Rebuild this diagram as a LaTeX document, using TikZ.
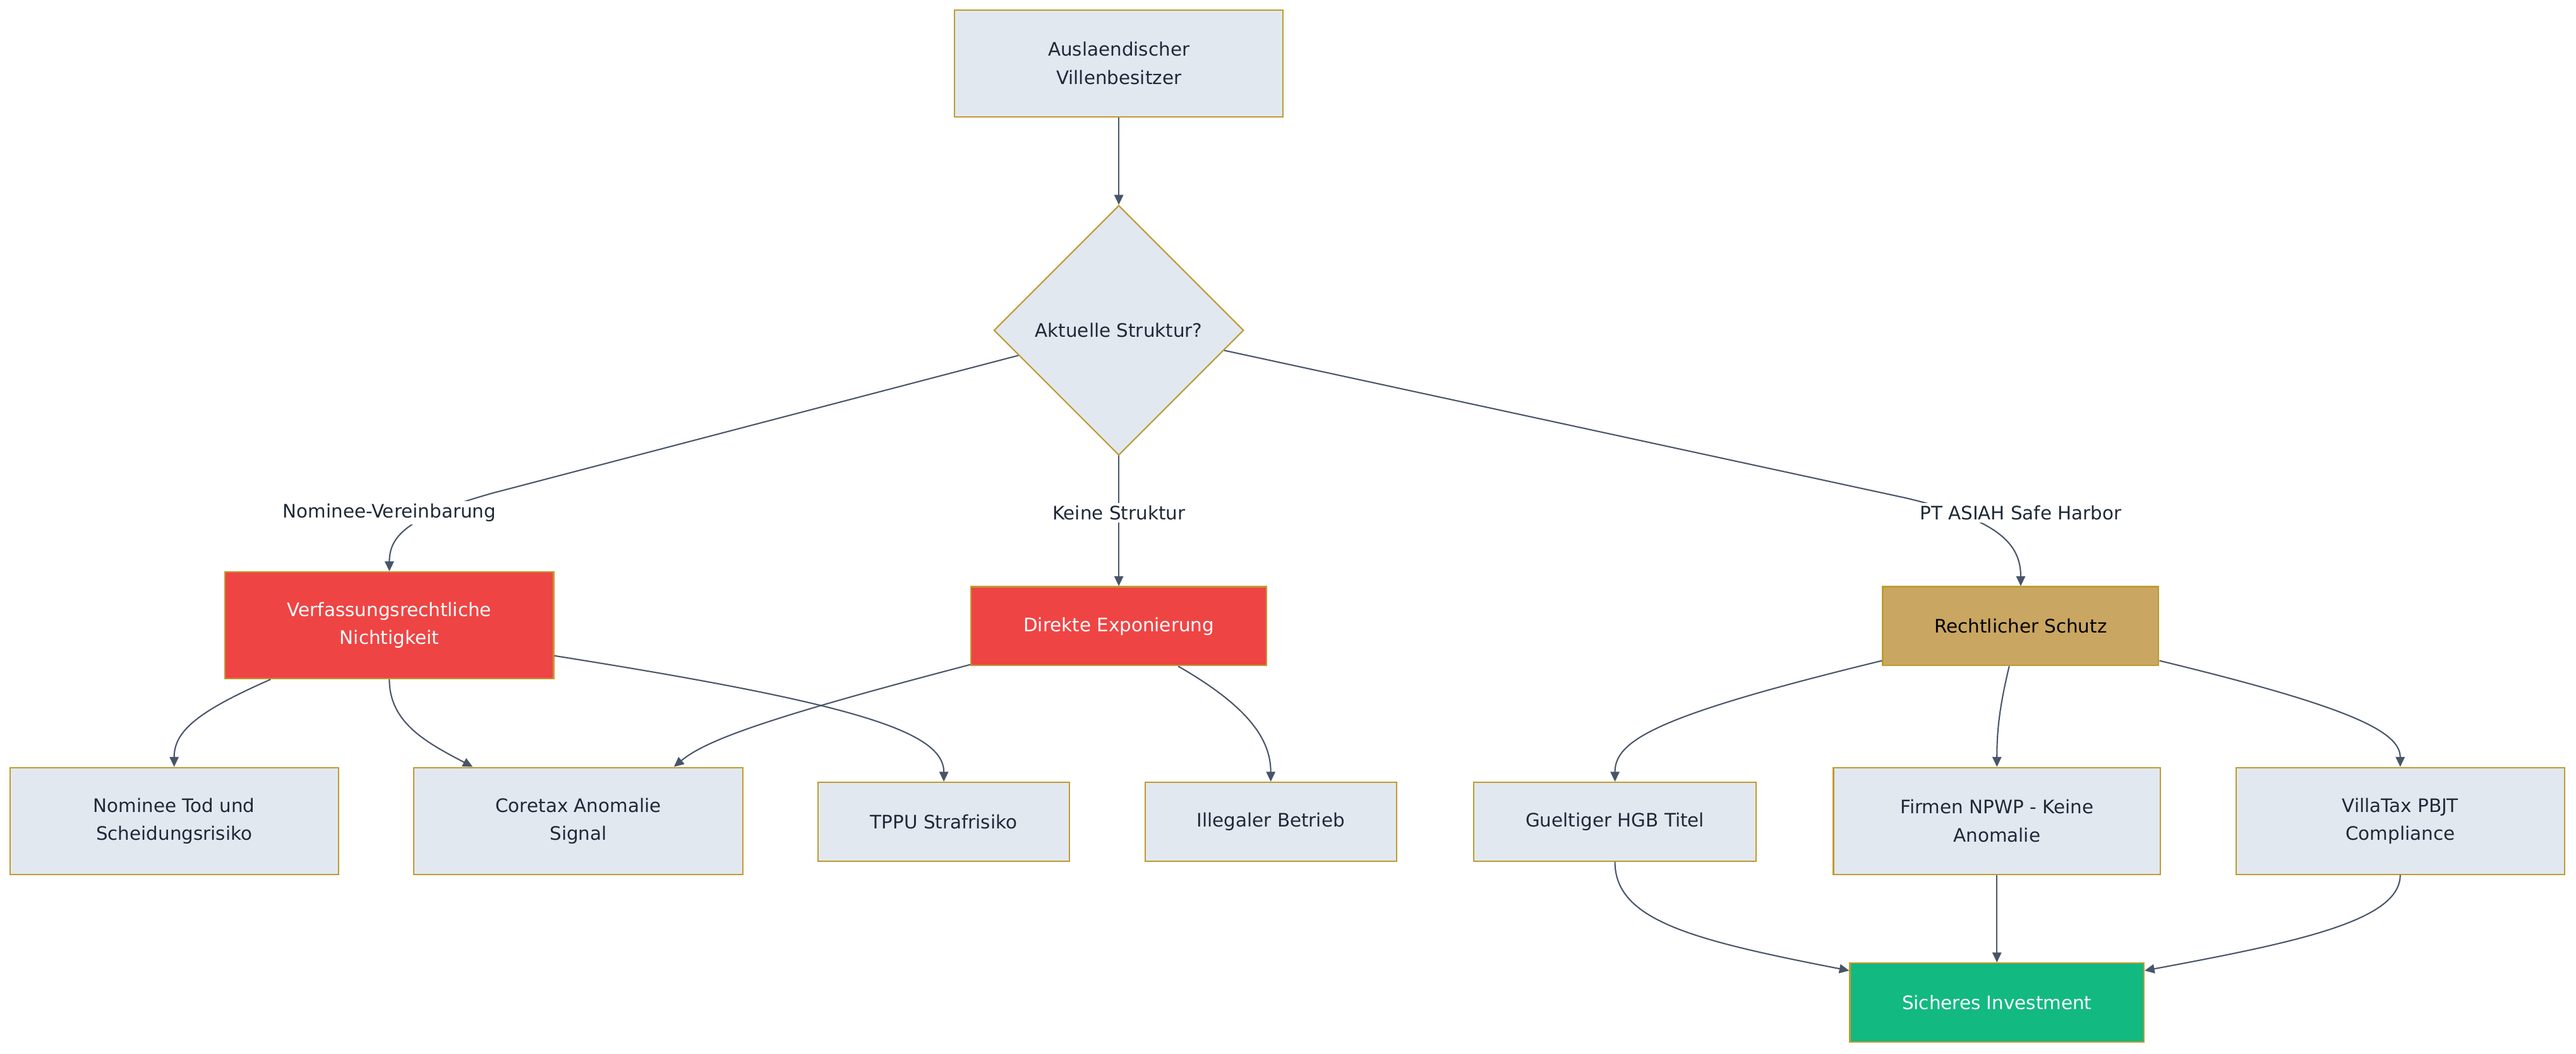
\documentclass[tikz,border=0pt]{standalone}
\usepackage{fontspec}
\setmainfont{DejaVu Sans}
\usetikzlibrary{shapes.geometric,arrows.meta,calc}
\definecolor{boxfill}{HTML}{E2E8F0}
\definecolor{gold}{HTML}{BF9B30}
\definecolor{redbox}{HTML}{EF4444}
\definecolor{tanbox}{HTML}{C9A762}
\definecolor{greenbox}{HTML}{12B981}
\definecolor{edgecol}{HTML}{475569}
\definecolor{txt}{HTML}{1F2937}
\begin{document}
\begin{tikzpicture}[x=1pt,y=-1pt,
  every node/.style={font=\fontsize{11.3}{17}\selectfont},
  box/.style={rectangle,draw=gold,line width=0.8pt,fill=boxfill,text=txt,align=center,inner sep=0pt},
  redb/.style={box,fill=redbox,text=white},
  tanb/.style={box,fill=tanbox,text=black},
  greenb/.style={box,fill=greenbox,text=white},
  dia/.style={diamond,draw=gold,line width=0.8pt,fill=boxfill,text=txt,inner sep=0pt,minimum width=152pt,minimum height=152pt},
  edge/.style={draw=edgecol,line width=0.8pt,-{Triangle[length=6pt,width=5.5pt]}},
  elabel/.style={fill=white,text=txt,inner sep=1.5pt}]
\useasboundingbox[fill=white] (0,0) rectangle (1568,641);

% nodes
\node[box,minimum width=200pt,minimum height=65pt] (A) at (681,38.5) {Auslaendischer\\Villenbesitzer};
\node[dia] (D) at (681,201) {Aktuelle Struktur?};
\node[redb,minimum width=200pt,minimum height=65pt] (V) at (237,380.5) {Verfassungsrechtliche\\Nichtigkeit};
\node[redb,minimum width=180pt,minimum height=48pt] (E) at (681,381) {Direkte Exponierung};
\node[tanb,minimum width=168pt,minimum height=48pt] (R) at (1230,381) {Rechtlicher Schutz};
\node[box,minimum width=200pt,minimum height=65pt] (N1) at (106,499.5) {Nominee Tod und\\Scheidungsrisiko};
\node[box,minimum width=200pt,minimum height=65pt] (C) at (352,499.5) {Coretax Anomalie\\Signal};
\node[box,minimum width=153pt,minimum height=48pt] (T) at (574.5,500) {TPPU Strafrisiko};
\node[box,minimum width=153pt,minimum height=48pt] (I) at (773.5,500) {Illegaler Betrieb};
\node[box,minimum width=172pt,minimum height=48pt] (G) at (983,500) {Gueltiger HGB Titel};
\node[box,minimum width=199pt,minimum height=65pt] (F) at (1215.5,499.5) {Firmen NPWP - Keine\\Anomalie};
\node[box,minimum width=200pt,minimum height=65pt] (VT) at (1461,499.5) {VillaTax PBJT\\Compliance};
\node[greenb,minimum width=179pt,minimum height=48pt] (S) at (1215.5,610) {Sicheres Investment};

% edges
\draw[edge] (A.south) -- (D.north);
\draw[edge] ($(D.west)!0.2!(D.south)$) -- (300,300) .. controls (250,314) and (237,325) .. (V.north);
\draw[edge] (D.south) -- (E.north);
\draw[edge] ($(D.east)!0.16!(D.south)$) -- (1160,303) .. controls (1215,316) and (1230,330) .. (R.north);
\node[elabel] (L1) at (237,312) {Nominee-Vereinbarung};
\node[elabel] (L2) at (681,312) {Keine Struktur};
\node[elabel] (L3) at (1230,312) {PT ASIAH Safe Harbor};

\draw[edge] ($(V.south west)!0.14!(V.south east)$) .. controls (120,433) and (106,445) .. (N1.north);
\draw[edge] (V.south) .. controls (237,440) and (260,452) .. ($(C.north west)!0.18!(C.north east)$);
\draw[edge] ($(V.east)+(0,18.5)$) .. controls (520,428) and (574.5,445) .. (T.north);
\draw[edge] ($(E.south west)+(0,-1)$) .. controls (470,436) and (430,450) .. ($(C.north west)!0.79!(C.north east)$);
\draw[edge] ($(E.south west)!0.7!(E.south east)$) .. controls (760,430) and (773.5,450) .. (I.north);
\draw[edge] ($(R.west)+(0,21)$) .. controls (1010,435) and (983,450) .. (G.north);
\draw[edge] ($(R.south)+(-7,0)$) .. controls (1217,430) and (1215.5,445) .. (F.north);
\draw[edge] ($(R.east)+(0,21)$) .. controls (1430,430) and (1461,445) .. (VT.north);
\draw[edge] (G.south) .. controls (983,560) and (1030,572) .. ($(S.north west)+(0,5)$);
\draw[edge] (F.south) -- (S.north);
\draw[edge] (VT.south) .. controls (1461,560) and (1400,573) .. ($(S.north east)+(0,5)$);
\end{tikzpicture}
\end{document}
